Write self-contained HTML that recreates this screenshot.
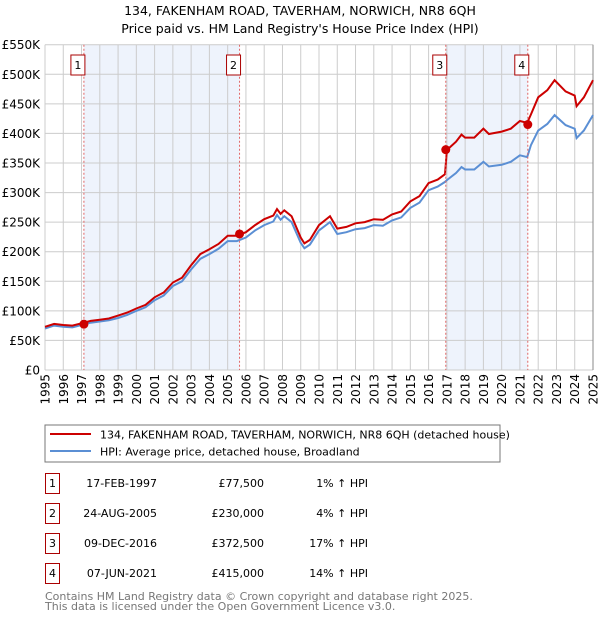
<!DOCTYPE html>
<html><head><meta charset="utf-8"><style>
body{margin:0;background:#fff;}
svg{display:block;font-family:"DejaVu Sans","Liberation Sans",sans-serif;}
</style></head><body>
<svg id="c" width="600" height="620" viewBox="0 0 600 620">
<text x="300" y="15" text-anchor="middle" font-size="12.5">134, FAKENHAM ROAD, TAVERHAM, NORWICH, NR8 6QH</text>
<text x="300" y="33" text-anchor="middle" font-size="12.5">Price paid vs. HM Land Registry's House Price Index (HPI)</text>
<g id="shade"></g><g id="grid"></g><g id="lines"></g><g id="marks"></g><g id="axes"></g>
<rect x="45" y="425" width="455" height="37" fill="#fff" stroke="#777"/>
<line x1="50" y1="434" x2="91" y2="434" stroke="#cc0000" stroke-width="2"/>
<text x="100" y="438.5" font-size="11">134, FAKENHAM ROAD, TAVERHAM, NORWICH, NR8 6QH (detached house)</text>
<line x1="50" y1="451" x2="91" y2="451" stroke="#5b8fd4" stroke-width="2"/>
<text x="100" y="455.5" font-size="11">HPI: Average price, detached house, Broadland</text>
<g id="table" font-size="11"></g>
<text x="45" y="600" font-size="11" fill="#777">Contains HM Land Registry data © Crown copyright and database right 2025.</text>
<text x="45" y="610" font-size="11" fill="#777">This data is licensed under the Open Government Licence v3.0.</text>
</svg>
<script>
const years=[1995,1995.5,1996,1996.5,1997,1997.5,1998,1998.5,1999,1999.5,2000,2000.5,2001,2001.5,2002,2002.5,2003,2003.5,2004,2004.5,2005,2005.5,2006,2006.5,2007,2007.5,2007.7,2007.9,2008.1,2008.5,2009,2009.2,2009.5,2010,2010.6,2011,2011.5,2012,2012.5,2013,2013.5,2014,2014.5,2015,2015.5,2016,2016.5,2016.9,2017,2017.5,2017.8,2018,2018.5,2019,2019.3,2020,2020.5,2021,2021.4,2021.6,2022,2022.5,2022.9,2023.5,2024,2024.1,2024.5,2025];
const hpiValues=[70,75,73,72,76,80,82,84,88,93,100,106,118,126,142,150,170,188,196,205,218,218,224,236,245,251,262,254,260,250,215,206,212,236,250,230,233,238,240,245,244,253,258,274,283,304,310,318,321,333,343,339,339,352,344,347,352,363,360,380,405,416,431,414,408,392,405,431];
const propertyValues=[73,78,76,75,79,83,85,87,92,97,104,110,123,131,148,156,177,196,204,213,227,227,233,245,255,261,272,264,270,260,224,214,220,245,260,239,242,248,250,255,254,263,268,285,294,316,322,331,372,386,398,393,393,408,399,403,408,421,418,432,461,473,490,471,464,446,461,490];
const saleLabels=["1","2","3","4"];
const saleYears=[1997.13,2005.65,2016.94,2021.43];
const salePrices=[77.5,230,372.5,415];
const saleDates=["17-FEB-1997","24-AUG-2005","09-DEC-2016","07-JUN-2021"];
const salePriceText=["£77,500","£230,000","£372,500","£415,000"];
const saleHpiText=["1% ↑ HPI","4% ↑ HPI","17% ↑ HPI","14% ↑ HPI"];
const yTicks=[0,50,100,150,200,250,300,350,400,450,500,550];
const yTickLabels=["£0","£50K","£100K","£150K","£200K","£250K","£300K","£350K","£400K","£450K","£500K","£550K"];
const xTicks=[1995,1996,1997,1998,1999,2000,2001,2002,2003,2004,2005,2006,2007,2008,2009,2010,2011,2012,2013,2014,2015,2016,2017,2018,2019,2020,2021,2022,2023,2024,2025];

const X0=45,X1=593,Y0=370,Y1=44.7;
const x=v=>X0+(v-1995)/30*(X1-X0);
const y=v=>Y0-v/550*(Y0-Y1);
const NS="http://www.w3.org/2000/svg";
function mk(tag,parent,attrs){const e=document.createElementNS(NS,tag);for(const k in attrs)e.setAttribute(k,attrs[k]);document.getElementById(parent).appendChild(e);return e;}

for(let i=0;i<saleYears.length;i+=2){
 const r=mk('rect','shade',{x:x(saleYears[i]),y:Y1,width:x(saleYears[i+1])-x(saleYears[i]),height:Y0-Y1,fill:'#eef3fc'});
 
 
}
yTicks.forEach((t,i)=>{
 const l=mk('line','grid',{x1:X0,x2:X1,y1:y(t),y2:y(t),stroke:'#cccccc'});
 
 
 const tx=mk('text','axes',{x:40,y:y(t)+4.5,'text-anchor':'end','font-size':'12'});
 tx.textContent=yTickLabels[i];
 
 
});
xTicks.forEach(t=>{
 const l=mk('line','grid',{x1:x(t),x2:x(t),y1:Y1,y2:Y0,stroke:'#cccccc'});
 
 
 const tx=mk('text','axes',{x:0,y:0,'text-anchor':'end','font-size':'12',transform:`translate(${x(t)+4.5},374) rotate(-90)`});
 tx.textContent=t;
 
 
});
const ax=mk('line','grid',{x1:X1,x2:X1,y1:Y1,y2:Y0,stroke:'#888'});


function path(vals){return vals.map((v,i)=>(i?'L':'M')+x(years[i]).toFixed(1)+','+y(v).toFixed(1)).join('');}
const hp=mk('path','lines',{d:path(hpiValues),fill:'none',stroke:'#5b8fd4','stroke-width':2});


const pp=mk('path','lines',{d:path(propertyValues),fill:'none',stroke:'#cc0000','stroke-width':2});


saleYears.forEach((s,i)=>{
 const v=mk('line','marks',{x1:x(s),x2:x(s),y1:Y1,y2:Y0,stroke:'#e06666','stroke-dasharray':'2,2','stroke-width':1});
 
 
 const c=mk('circle','marks',{cx:x(s),cy:y(salePrices[i]),r:4.5,fill:'#cc0000'});
 
 
 const b=mk('rect','marks',{x:x(s)-13,y:55,width:14,height:20,fill:'#fff',stroke:'#aa0000'});
 
 
 const t=mk('text','marks',{x:x(s)-6,y:69,'text-anchor':'middle','font-size':'11'});
 t.textContent=saleLabels[i];
 
 
 const ry=483+i*30;
 const tb=mk('rect','table',{x:45.5,y:ry-9.5,width:14,height:20,fill:'#fff',stroke:'#aa0000'});
 
 
 const tn=mk('text','table',{x:52.5,y:ry+4,'text-anchor':'middle'});
 tn.textContent=saleLabels[i];
 
 
 const td=mk('text','table',{x:157,y:ry+4,'text-anchor':'end'});
 td.textContent=saleDates[i];
 
 
 const tp=mk('text','table',{x:264,y:ry+4,'text-anchor':'end'});
 tp.textContent=salePriceText[i];
 
 
 const th=mk('text','table',{x:368,y:ry+4,'text-anchor':'end'});
 th.textContent=saleHpiText[i];
 
 
});
</script>
</body></html>
